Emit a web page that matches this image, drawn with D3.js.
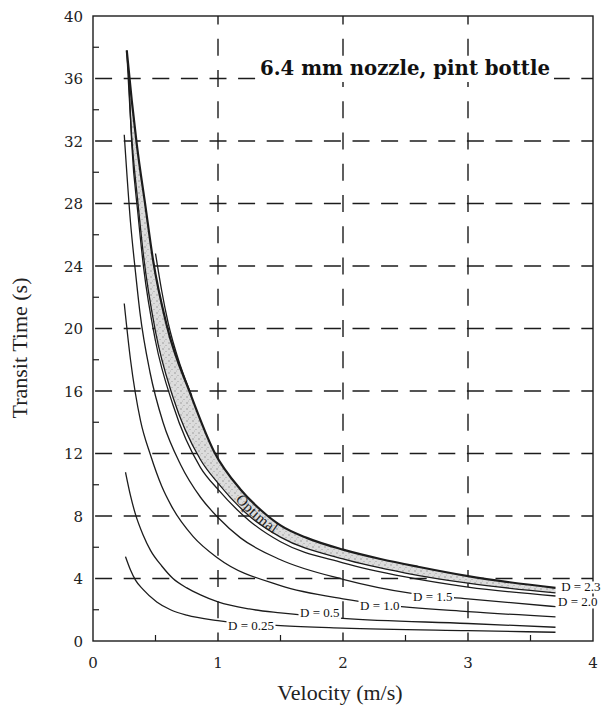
<!DOCTYPE html>
<html><head><meta charset="utf-8">
<script src="https://cdn.jsdelivr.net/npm/d3@7"></script>
<style>html,body{margin:0;padding:0;background:#fff}</style>
</head><body>
<svg id="c" width="603" height="724"></svg>
<script>
// ---------- data ----------
const xTicks = [0, 1, 2, 3, 4];
const yTicks = [0, 4, 8, 12, 16, 20, 24, 28, 32, 36, 40];
const xMinor = [0.5, 1.5, 2.5, 3.5];
const yMinor = [2, 6, 10, 14, 18, 22, 26, 30, 34, 38];

// optimal band, upper (thick) edge
const topV = [0.27, 0.31, 0.35, 0.42, 0.48, 0.59, 0.78, 0.97, 1.18, 1.34, 1.5, 1.71, 2.0, 2.3, 2.6, 3.0, 3.7];
const topT = [37.8, 34.6, 31.8, 27.8, 24.4, 20.2, 15.8, 12.1, 9.7, 8.4, 7.4, 6.6, 5.85, 5.25, 4.75, 4.15, 3.4];
// optimal band, lower edge
const lowV = [0.27, 0.31, 0.36, 0.405, 0.5, 0.64, 0.86, 1.0, 1.25, 1.5, 2.0, 2.5, 3.0, 3.7];
const lowT = [37.8, 32.2, 28, 24.6, 19.8, 15.6, 11.6, 10.1, 8.0, 6.65, 5.25, 4.35, 3.7, 3.08];
// D = 2.3 (joins the upper edge)
const d23V = [0.5, 0.55, 0.6, 0.7, 0.79];
const d23T = [24.8, 22.4, 20.4, 17.6, 15.7];
// D = 2.0
const d20V = [0.285, 0.31, 0.36, 0.405, 0.5, 0.64, 0.86, 1.0, 1.25, 1.5, 2.0, 2.5, 3.0, 3.7];
const d20T = [36.2, 31.8, 27.3, 23.9, 19.2, 15.1, 11.1, 9.7, 7.7, 6.35, 5.0, 4.1, 3.45, 2.88];
// D = 1.5
const d15V = [0.25, 0.3, 0.34, 0.376, 0.456, 0.56, 0.7, 0.86, 1.0, 1.18, 1.5, 2.0, 2.55, 3.0, 3.7];
const d15T = [32.4, 26.8, 23.6, 21.0, 17.2, 14.0, 11.3, 9.2, 7.9, 6.6, 5.2, 3.95, 3.05, 2.7, 2.2];
// D = 1.0
const d10V = [0.25, 0.3, 0.38, 0.46, 0.55, 0.63, 0.8, 1.0, 1.5, 2.0, 2.3, 3.0, 3.7];
const d10T = [21.6, 18.0, 14.1, 11.9, 9.9, 8.6, 6.7, 5.3, 3.55, 2.7, 2.35, 1.88, 1.55];
// D = 0.5
const d05V = [0.26, 0.3, 0.34, 0.4, 0.46, 0.55, 0.64, 0.75, 0.86, 1.0, 1.25, 1.5, 2.0, 3.0, 3.7];
const d05T = [10.8, 9.3, 8.1, 6.8, 5.8, 4.8, 4.0, 3.4, 2.95, 2.5, 2.05, 1.8, 1.45, 1.12, 0.88];
// D = 0.25
const d025V = [0.26, 0.3, 0.34, 0.4, 0.51, 0.62, 0.75, 1.0, 1.5, 2.0, 3.0, 3.7];
const d025T = [5.4, 4.55, 3.9, 3.3, 2.5, 2.0, 1.65, 1.3, 0.98, 0.83, 0.66, 0.56];

const labelText = ["D = 2.3", "D = 2.0", "D = 1.5", "D = 1.0", "D = 0.5", "D = 0.25"];
const labelV    = [3.745, 3.72, 2.56, 2.136, 1.656, 1.08];
const labelT    = [3.17, 2.21, 2.56, 1.98, 1.54, 0.72];

// ---------- drawing ----------
const svg = d3.select("#c");
const x = d3.scaleLinear().domain([0, 4]).range([93, 593]);
const y = d3.scaleLinear().domain([0, 40]).range([641, 16]);
const ink = "#1c1c1c";
const zip = (a, b) => a.map((v, i) => [v, b[i]]);

// stipple pattern for band
const defs = svg.append("defs");
const pat = defs.append("pattern").attr("id", "stip").attr("width", 6).attr("height", 6)
  .attr("patternUnits", "userSpaceOnUse");
pat.append("rect").attr("width", 6).attr("height", 6).attr("fill", "#dcdcdc");
pat.append("circle").attr("cx", 1).attr("cy", 1).attr("r", 0.7).attr("fill", "#8a8a8a");
pat.append("circle").attr("cx", 4).attr("cy", 3.5).attr("r", 0.6).attr("fill", "#9a9a9a");
pat.append("circle").attr("cx", 2.5).attr("cy", 5).attr("r", 0.5).attr("fill", "#b0b0b0");

// grid
const gx = svg.append("g");
[1, 2, 3].forEach(v => {
  gx.append("line").attr("x1", x(v)).attr("x2", x(v)).attr("y1", y(40)).attr("y2", y(0))
    .attr("stroke", ink).attr("stroke-width", 1.4)
    .attr("stroke-dasharray", "17 14.25").attr("stroke-dashoffset", 8.5);
});
yTicks.filter(t => t > 0 && t < 40).forEach(t => {
  gx.append("line").attr("x1", x(0)).attr("x2", x(4)).attr("y1", y(t)).attr("y2", y(t))
    .attr("stroke", ink).attr("stroke-width", 1.4)
    .attr("stroke-dasharray", "17 11.6").attr("stroke-dashoffset", -2.1);
});

// minor ticks
yMinor.forEach(t => svg.append("line").attr("x1", x(0)).attr("x2", x(0) + 6)
  .attr("y1", y(t)).attr("y2", y(t)).attr("stroke", ink).attr("stroke-width", 1.2));
xMinor.forEach(v => svg.append("line").attr("x1", x(v)).attr("x2", x(v))
  .attr("y1", y(0)).attr("y2", y(0) - 6).attr("stroke", ink).attr("stroke-width", 1.2));

// frame
svg.append("rect").attr("x", x(0)).attr("y", y(40)).attr("width", x(4) - x(0))
  .attr("height", y(0) - y(40)).attr("fill", "none").attr("stroke", ink).attr("stroke-width", 1.4);

// title
const title = "6.4 mm nozzle, pint bottle";
svg.append("rect").attr("x", 256).attr("y", 56).attr("width", 298).attr("height", 26).attr("fill", "#fff");
svg.append("text").attr("x", 260).attr("y", 75).text(title)
  .attr("font-family", "DejaVu Serif").attr("font-weight", "bold").attr("font-size", 20)
  .attr("textLength", 290).attr("lengthAdjust", "spacingAndGlyphs").attr("fill", "#111");

// curves
const line = d3.line().x(d => x(d[0])).y(d => y(d[1])).curve(d3.curveMonotoneX);
const topPts = zip(topV, topT), lowPts = zip(lowV, lowT);

// band: top edge forward, lower edge traced backward
const tmp = defs.append("path").attr("d", line(lowPts)).node();
const L = tmp.getTotalLength();
const back = [];
for (let s = L; s >= 0; s -= 2) { const p = tmp.getPointAtLength(s); back.push(p.x.toFixed(2) + "," + p.y.toFixed(2)); }
const p0 = tmp.getPointAtLength(0); back.push(p0.x.toFixed(2) + "," + p0.y.toFixed(2));
svg.append("path").attr("d", line(topPts) + "L" + back.join("L") + "Z")
  .attr("fill", "url(#stip)").attr("stroke", "none");

const thin = [[d025V, d025T], [d05V, d05T], [d10V, d10T], [d15V, d15T], [d20V, d20T], [d23V, d23T], [lowV, lowT]];
thin.forEach(([a, b]) => svg.append("path").attr("d", line(zip(a, b)))
  .attr("fill", "none").attr("stroke", ink).attr("stroke-width", 1.3));
svg.append("path").attr("id", "topEdge").attr("d", line(topPts)).attr("fill", "none")
  .attr("stroke", ink).attr("stroke-width", 2.2);

// "Optimal" along the band
const te = document.getElementById("topEdge");
const tl = te.getTotalLength();
let best = 0, bd = 1e9;
for (let s = 0; s <= tl; s += 1) { const p = te.getPointAtLength(s); const d = Math.abs(p.x - x(1.2)); if (d < bd) { bd = d; best = s; } }
svg.append("text").attr("font-family", "Liberation Serif").attr("font-size", 15)
  .attr("fill", "#222").attr("dy", 11)
  .append("textPath").attr("href", "#topEdge").attr("startOffset", best).text("Optimal");

// curve labels with white knock-out boxes
labelText.forEach((s, i) => {
  const g = svg.append("g");
  const r = g.append("rect").attr("fill", "#fff");
  const t = g.append("text").attr("x", x(labelV[i])).attr("y", y(labelT[i])).text(s)
    .attr("font-family", "Liberation Serif").attr("font-size", 13).attr("fill", "#111");
  const b = t.node().getBBox();
  r.attr("x", b.x - 1.5).attr("y", b.y + 2).attr("width", b.width + 3).attr("height", b.height - 3);
});

// tick labels
xTicks.forEach(v => svg.append("text").attr("x", x(v)).attr("y", 668).attr("text-anchor", "middle")
  .text(v).attr("font-family", "DejaVu Serif").attr("font-size", 15).attr("fill", "#222"));
yTicks.forEach(t => svg.append("text").attr("x", 83).attr("y", y(t) + 5.5).attr("text-anchor", "end")
  .text(t).attr("font-family", "DejaVu Serif").attr("font-size", 15).attr("fill", "#222"));

// axis titles
svg.append("text").attr("x", 340).attr("y", 700).attr("text-anchor", "middle")
  .text("Velocity (m/s)").attr("font-family", "Liberation Serif").attr("font-size", 22).attr("fill", "#222");
svg.append("text").attr("transform", "translate(27,348) rotate(-90)").attr("text-anchor", "middle")
  .text("Transit Time (s)").attr("font-family", "Liberation Serif").attr("font-size", 22).attr("fill", "#222");
</script>
</body></html>
